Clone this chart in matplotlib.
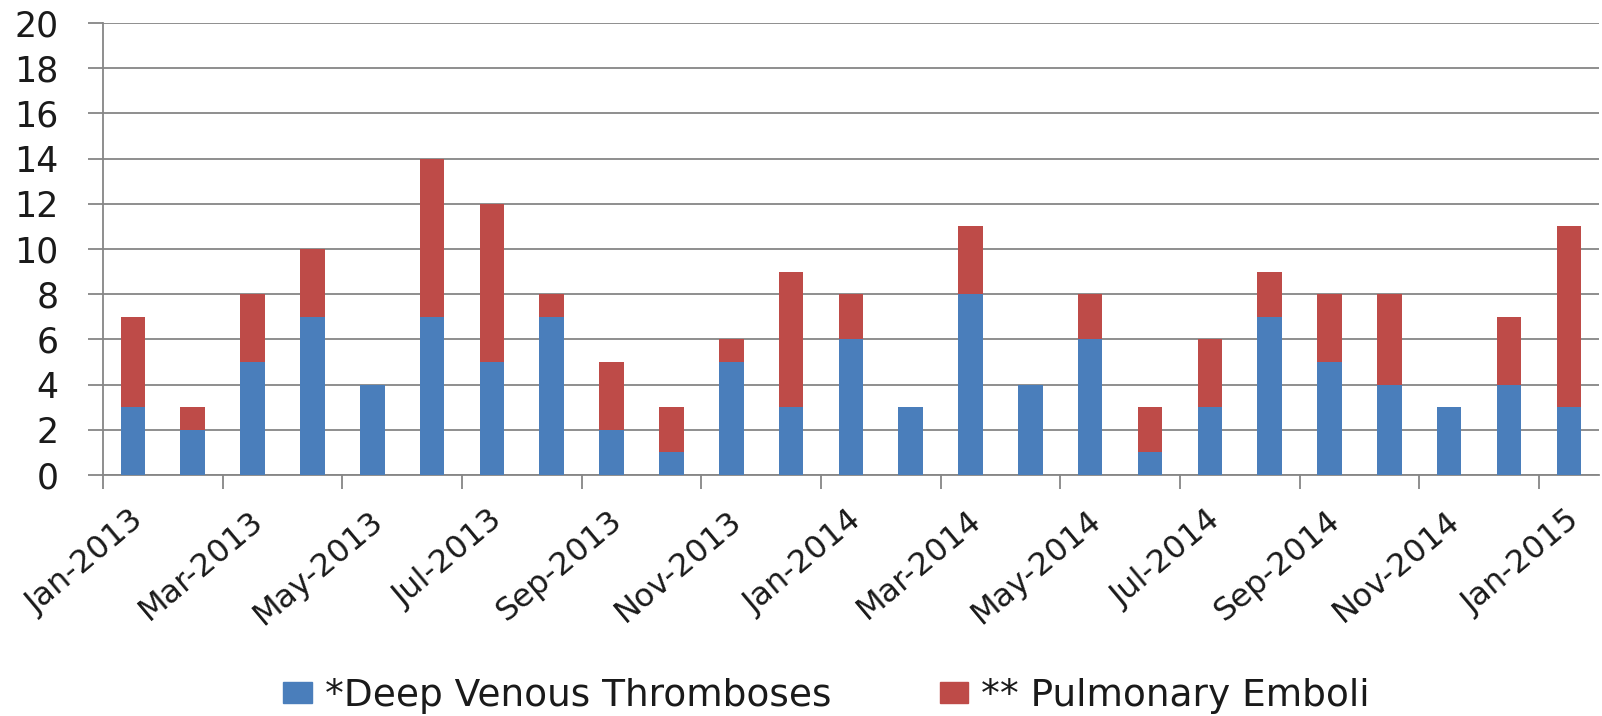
import matplotlib
matplotlib.use("Agg")
import matplotlib.pyplot as plt
import matplotlib.transforms as mtransforms
from matplotlib.patches import Patch

months = ["Jan-2013", "Feb-2013", "Mar-2013", "Apr-2013", "May-2013", "Jun-2013",
          "Jul-2013", "Aug-2013", "Sep-2013", "Oct-2013", "Nov-2013", "Dec-2013",
          "Jan-2014", "Feb-2014", "Mar-2014", "Apr-2014", "May-2014", "Jun-2014",
          "Jul-2014", "Aug-2014", "Sep-2014", "Oct-2014", "Nov-2014", "Dec-2014",
          "Jan-2015"]
dvt = [3, 2, 5, 7, 4, 7, 5, 7, 2, 1, 5, 3, 6, 3, 8, 4, 6, 1, 3, 7, 5, 4, 3, 4, 3]
pe = [4, 1, 3, 3, 0, 7, 7, 1, 3, 2, 1, 6, 2, 0, 3, 0, 2, 2, 3, 2, 3, 4, 0, 3, 8]
yticks = list(range(0, 21, 2))

BLUE = "#4A7EBB"
RED = "#BE4B48"
GRID = "#868686"
TXT = "#1a1a1a"

plt.rcParams["font.family"] = ["DejaVu Sans"]

fig = plt.figure(figsize=(16.02, 7.16), dpi=100)
ax = fig.add_axes([0.0643, 0.3366, 0.9337, 0.6314])

x = list(range(len(months)))
ax.bar(x, dvt, width=0.41, color=BLUE, zorder=3)
ax.bar(x, pe, width=0.41, bottom=dvt, color=RED, zorder=3)

ax.set_xlim(-0.5, len(months) - 0.5)
ax.set_ylim(0, 20)
ax.set_yticks(yticks)
ax.set_yticklabels([str(v) for v in yticks], fontsize=25, color=TXT)
ax.yaxis.grid(True, color=GRID, lw=1.3, zorder=0)
ax.tick_params(axis="y", length=11, width=1.3, color=GRID, pad=21)

# labels every other month at bar centres, tick marks on category boundaries
ax.set_xticks(x[::2])
ax.set_xticklabels(months[::2], rotation=40, ha="right", va="center",
                   rotation_mode="anchor", fontsize=23, color=TXT)
ax.tick_params(axis="x", which="major", length=0, pad=30)
ax.set_xticks([i - 0.5 for i in x[::2]], minor=True)
ax.tick_params(axis="x", which="minor", length=10, width=1.3, color=GRID)
offset = mtransforms.ScaledTranslation(0.07, 0, fig.dpi_scale_trans)
for lab in ax.get_xticklabels():
    lab.set_transform(lab.get_transform() + offset)

for s in ["top", "right"]:
    ax.spines[s].set_visible(False)
for s in ["left", "bottom"]:
    ax.spines[s].set_color(GRID)
    ax.spines[s].set_linewidth(1.3)

handles = [Patch(color=BLUE, label="*Deep Venous Thromboses"),
           Patch(color=RED, label="** Pulmonary Emboli")]
fig.legend(handles=handles, loc="center", bbox_to_anchor=(0.516, 0.028), ncol=2,
           frameon=False, fontsize=27, handlelength=0.75, handleheight=0.48,
           handletextpad=0.35, columnspacing=2.9, labelcolor=TXT)

fig.savefig("out.png", dpi=100, facecolor="white")
